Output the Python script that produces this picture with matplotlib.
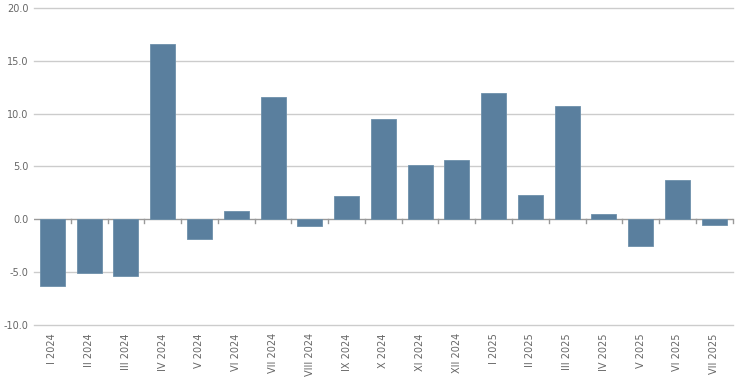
import matplotlib
matplotlib.use("Agg")
import matplotlib.pyplot as plt
import numpy as np

categories = ["I 2024", "II 2024", "III 2024", "IV 2024", "V 2024", "VI 2024",
              "VII 2024", "VIII 2024", "IX 2024", "X 2024", "XI 2024", "XII 2024",
              "I 2025", "II 2025", "III 2025", "IV 2025", "V 2025", "VI 2025", "VII 2025"]
values = [-6.3, -5.1, -5.4, 16.6, -1.9, 0.8, 11.6, -0.6, 2.2, 9.5, 5.1, 5.6,
          12.0, 2.3, 10.7, 0.5, -2.5, 3.7, -0.5]
yticks = [-10.0, -5.0, 0.0, 5.0, 10.0, 15.0, 20.0]

fig = plt.figure(figsize=(7.4, 3.84), dpi=100)
ax = fig.add_axes([0.046, 0.154, 0.944, 0.825])

x = np.arange(len(categories))
ax.bar(x, values, width=0.68, color="#5a7f9e", edgecolor="#6d90ab", linewidth=0.6, zorder=3)

ax.set_xlim(-0.5, len(categories) - 0.5)
ax.set_ylim(-10, 20)
ax.set_yticks(yticks)
ax.set_yticklabels([f"{v:.1f}" for v in yticks], fontsize=7, color="#666666")
ax.tick_params(axis="y", length=0, pad=4)
for v in yticks:
    if v != 0:
        ax.axhline(v, color="#cccccc", linewidth=1.0, zorder=0, clip_on=False)
for s in ax.spines.values():
    s.set_visible(False)

# zero baseline with tick marks at category boundaries
ax.axhline(0, color="#999999", linewidth=1.0, zorder=2)
for b in np.arange(0.5, len(categories) - 0.5 + 1e-9, 1.0):
    ax.plot([b, b], [0, -0.35], color="#999999", linewidth=1.0, zorder=2, clip_on=False)

ax.set_xticks(x)
ax.set_xticklabels(categories, rotation=90, fontsize=7, color="#666666")
ax.tick_params(axis="x", length=0, pad=6)

fig.savefig("out.png", dpi=100)
